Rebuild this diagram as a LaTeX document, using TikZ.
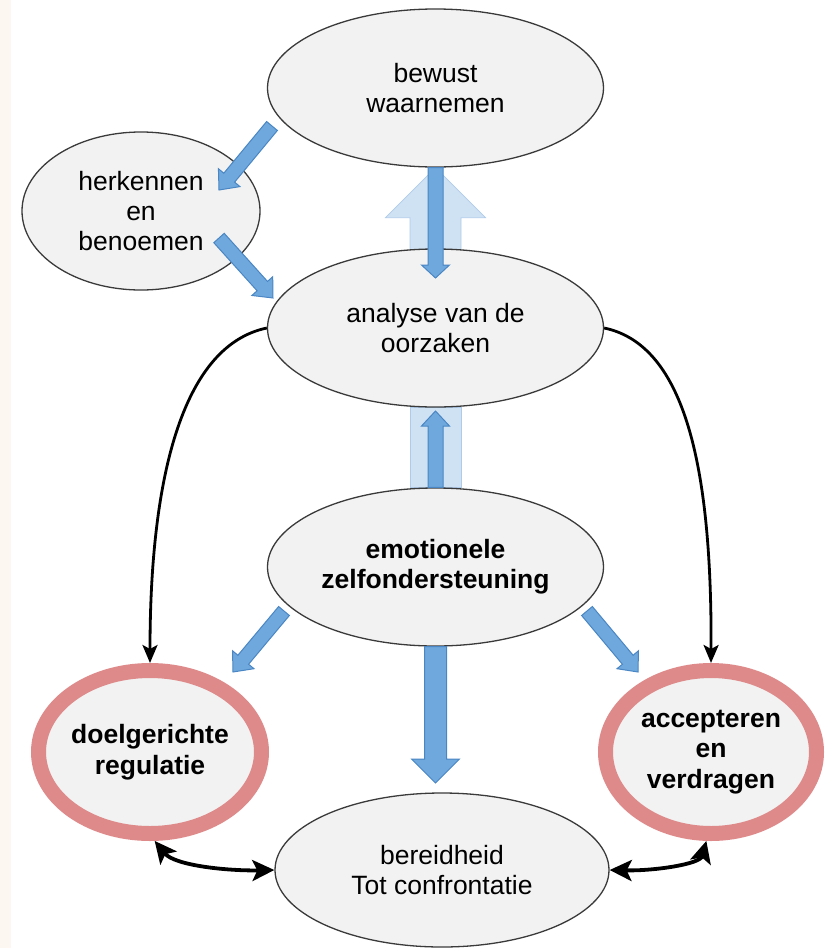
\documentclass[tikz,border=0pt]{standalone}
\usepackage{fontspec}
\usetikzlibrary{arrows.meta,calc,shapes.geometric}
\newfontfamily\bubblefont{Liberation Sans}

\definecolor{bubblefill}{HTML}{F2F2F2}
\definecolor{linegray}{HTML}{3A3A3A}
\definecolor{ringpink}{HTML}{DE8A8A}
\definecolor{arrowblue}{HTML}{6FA8DC}
\definecolor{arrowedge}{HTML}{4A86C4}
\definecolor{paleblue}{HTML}{CFE2F3}
\definecolor{paleedge}{HTML}{AFCBEA}
\definecolor{cream}{HTML}{FCF8F1}

\pgfdeclarelayer{background}
\pgfsetlayers{background,main}

\tikzset{
  bubble/.style={ellipse, draw=linegray, line width=1.3pt, fill=bubblefill,
    inner sep=0pt, align=center,
    font=\bubblefont\fontsize{26.5}{30}\selectfont},
  goalring/.style={ellipse, draw=ringpink, line width=15pt, fill=bubblefill,
    inner sep=0pt, align=center,
    font=\bubblefont\bfseries\fontsize{26.5}{30.5}\selectfont},
  bluearrow/.style={fill=arrowblue, draw=arrowedge, line width=1pt},
  paleblock/.style={fill=paleblue, draw=paleedge, line width=0.8pt},
  flow/.style={draw=black, line width=2.8pt,
    -{Stealth[length=18pt, width=15pt, inset=4pt]}},
  twoway/.style={draw=black, line width=3.8pt,
    {Stealth[length=22pt, width=21pt, inset=5pt]}-{Stealth[length=22pt, width=21pt, inset=5pt]}},
}

% block arrow: #2 tail, #3 tip, #4 half shaft width, #5 half head width, #6 head length
\newcommand{\blockarrow}[6][bluearrow]{%
  \coordinate (ba-base) at ($(#3)!#6!(#2)$);
  \path[#1] ($(#2)!#4!90:(#3)$) -- ($(ba-base)!#4!90:(#3)$)
    -- ($(ba-base)!#5!90:(#3)$) -- (#3)
    -- ($(ba-base)!#5!-90:(#3)$) -- ($(ba-base)!#4!-90:(#3)$)
    -- ($(#2)!#4!-90:(#3)$) -- cycle;}

\begin{document}
\begin{tikzpicture}[x=1pt, y=-1pt]
  \path[use as bounding box] (0,0) rectangle (826,948);

  % ellipses
  \node[bubble, minimum width=336pt, minimum height=158pt] (bew) at (435.5,88) {bewust\\waarnemen};
  \node[bubble, minimum width=238pt, minimum height=158pt] (herk) at (141,211) {herkennen\\en\\benoemen};
  \node[bubble, minimum width=336pt, minimum height=158pt] (ana) at (435.5,328) {analyse van de\\oorzaken};
  \node[bubble, minimum width=336pt, minimum height=158pt, font=\bubblefont\bfseries\fontsize{26.5}{30}\selectfont] (emo) at (435.5,567) {emotionele\\zelfondersteuning};
  \node[goalring, minimum width=223pt, minimum height=163pt] (doel) at (150,752) {doelgerichte\\regulatie};
  \node[goalring, minimum width=211pt, minimum height=163pt] (acc) at (711,752) {accepteren\\en\\verdragen};
  \node[bubble, minimum width=334pt, minimum height=154pt] (ber) at (442,870) {bereidheid\\Tot confrontatie};

  % pale background arrows behind the ellipses
  \begin{pgfonlayer}{background}
    \fill[cream] (0,0) rectangle (11,948);
    \coordinate (pale-tail) at (435.5,262);
    \coordinate (pale-tip) at (bew.south);
    \blockarrow[paleblock]{pale-tail}{pale-tip}{25.5pt}{50pt}{50pt}
    \path[paleblock] (ana.south -| 410,0) rectangle (emo.north -| 461,0);
  \end{pgfonlayer}

  % blue block arrows
  \coordinate (a1s) at (272,126);  \coordinate (a1e) at (219,190);
  \coordinate (a2s) at (219,238);  \coordinate (a2e) at (273,298);
  \coordinate (a3s) at (bew.south); \coordinate (a3e) at (435.5,278);
  \coordinate (a4s) at (emo.north); \coordinate (a4e) at (435.5,411);
  \coordinate (a6s) at (284,611);  \coordinate (a6e) at (233,672);
  \coordinate (a7s) at (587,611);  \coordinate (a7e) at (638,672);
  \coordinate (a8s) at (emo.south); \coordinate (a8e) at (435.5,783);
  \blockarrow{a1s}{a1e}{7pt}{14pt}{16pt}
  \blockarrow{a2s}{a2e}{7pt}{14pt}{16pt}
  \blockarrow{a3s}{a3e}{7.5pt}{14pt}{13pt}
  \blockarrow{a4s}{a4e}{7.5pt}{14pt}{15pt}
  \blockarrow{a6s}{a6e}{7pt}{14pt}{16pt}
  \blockarrow{a7s}{a7e}{7pt}{14pt}{16pt}
  \blockarrow{a8s}{a8e}{11pt}{24pt}{24pt}

  % black connectors
  \draw[flow] (ana.west) .. controls (185,345) and (150,470) .. (doel.north);
  \draw[flow] (ana.east) .. controls (686,345) and (712,470) .. (acc.north);
  \draw[twoway] (doel.-87) .. controls (175,866) and (230,871) .. (ber.west);
  \draw[twoway] (ber.east) .. controls (655,871) and (700,864) .. (acc.-93);
\end{tikzpicture}
\end{document}
